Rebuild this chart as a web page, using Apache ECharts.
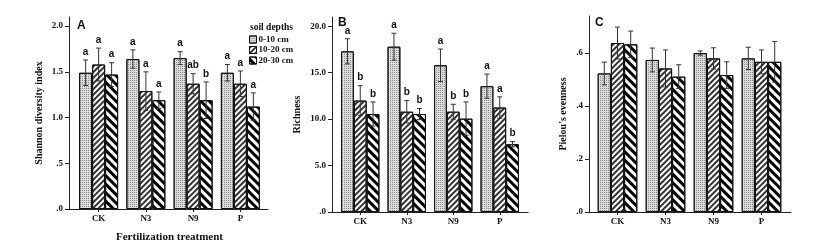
<!DOCTYPE html>
<html><head><meta charset="utf-8">
<script src="https://cdn.jsdelivr.net/npm/echarts@6/dist/echarts.min.js"></script>
<style>html,body{margin:0;padding:0;background:#fff}#c{width:817px;height:251px}</style>
</head><body><div id="c"></div>
<script>
const categories = ['CK', 'N3', 'N9', 'P'];
const depths = ['0-10 cm', '10-20 cm', '20-30 cm'];

// Shannon diversity index (panel A), per depth: CK, N3, N9, P
const shannon0_10 = [1.49, 1.64, 1.65, 1.49];
const shannon10_20 = [1.58, 1.29, 1.37, 1.37];
const shannon20_30 = [1.47, 1.19, 1.19, 1.12];
const shannonErr0_10 = [0.14, 0.10, 0.07, 0.09];
const shannonErr10_20 = [0.18, 0.21, 0.11, 0.14];
const shannonErr20_30 = [0.13, 0.09, 0.20, 0.15];
const shannonLetters0_10 = ['a', 'a', 'a', 'a'];
const shannonLetters10_20 = ['a', 'a', 'ab', 'a'];
const shannonLetters20_30 = ['a', 'a', 'b', 'a'];

// Richness (panel B)
const rich0_10 = [17.3, 17.8, 15.8, 13.55];
const rich10_20 = [12.0, 10.8, 10.8, 11.25];
const rich20_30 = [10.55, 10.55, 10.05, 7.3];
const richErr0_10 = [1.35, 1.45, 1.75, 1.3];
const richErr10_20 = [1.6, 1.2, 0.8, 1.15];
const richErr20_30 = [1.3, 0.6, 1.8, 0.28];
const richLetters0_10 = ['a', 'a', 'a', 'a'];
const richLetters10_20 = ['b', 'b', 'b', 'a'];
const richLetters20_30 = ['b', 'b', 'b', 'b'];

// Pielou's evenness (panel C)
const even0_10 = [0.523, 0.574, 0.600, 0.580];
const even10_20 = [0.638, 0.542, 0.580, 0.567];
const even20_30 = [0.633, 0.511, 0.517, 0.567];
const evenErr0_10 = [0.043, 0.045, 0.008, 0.042];
const evenErr10_20 = [0.06, 0.07, 0.04, 0.045];
const evenErr20_30 = [0.05, 0.045, 0.05, 0.077];

// tick values
const shannonTicks = [0, 0.5, 1.0, 1.5, 2.0];
const richTicks = [0, 5, 10, 15, 20];
const evenTicks = [0, 0.2, 0.4, 0.6];

const SERIF = "'Liberation Serif','Times New Roman',serif";
const SANS = "'Liberation Sans',Arial,sans-serif";
const GAP = 0.175;

const decals = [
  {symbol: 'rect', symbolSize: 1, color: '#8c8c8c', dashArrayX: [1, 1], dashArrayY: [1, 1]},
  {symbol: 'rect', symbolSize: 1, color: '#333', dashArrayX: [1, 0], dashArrayY: [1.2, 2], rotation: -Math.PI / 4},
  {symbol: 'rect', symbolSize: 1, color: '#000', dashArrayX: [1, 0], dashArrayY: [2.4, 2.4], rotation: Math.PI / 4}
];
const fills = ['#dcdcdc', '#ffffff', '#ffffff'];

function fmt(v, dec) {
  let s = v.toFixed(dec);
  if (s.startsWith('0.')) s = s.slice(1);
  return s;
}

const grids = [
  {left: 75, width: 189, top: 17, height: 192},
  {left: 337, width: 186, top: 17, height: 195},
  {left: 593.5, width: 192, top: 16, height: 196},
  {left: 69, width: 199, top: 17, height: 192},
  {left: 332, width: 196, top: 17, height: 195},
  {left: 589, width: 202, top: 16, height: 196}
];

const panels = [
  {means: [shannon0_10, shannon10_20, shannon20_30], errs: [shannonErr0_10, shannonErr10_20, shannonErr20_30],
   letters: [shannonLetters0_10, shannonLetters10_20, shannonLetters20_30], max: 2.1, ticks: shannonTicks, dec: 1,
   name: 'Shannon diversity index', nameGap: 25, offset: 6},
  {means: [rich0_10, rich10_20, rich20_30], errs: [richErr0_10, richErr10_20, richErr20_30],
   letters: [richLetters0_10, richLetters10_20, richLetters20_30], max: 21, ticks: richTicks, dec: 1,
   name: 'Richness', nameGap: 30, offset: 5},
  {means: [even0_10, even10_20, even20_30], errs: [evenErr0_10, evenErr10_20, evenErr20_30],
   letters: null, max: 0.74, ticks: evenTicks, dec: 1,
   name: "Pielou's evenness", nameGap: 21, offset: 4.5}
];

const xAxes = [], yAxes = [], series = [];
panels.forEach((p, g) => {
  xAxes.push({
    type: 'category', gridIndex: g, data: categories,
    axisLine: {show: false},
    axisTick: {show: true, alignWithLabel: true, length: 3, lineStyle: {color: '#222'}},
    axisLabel: {fontFamily: SERIF, fontWeight: 'bold', fontSize: 9, color: '#111', margin: 5},
    name: g === 0 ? 'Fertilization treatment' : '',
    nameLocation: 'middle', nameGap: 23,
    nameTextStyle: {fontFamily: SERIF, fontWeight: 'bold', fontSize: 11, color: '#111'}
  });
  yAxes.push({
    type: 'value', gridIndex: g, min: 0, max: p.max, offset: p.offset,
    axisLine: {show: true, lineStyle: {color: '#222'}},
    axisTick: {show: true, length: 4, customValues: p.ticks, lineStyle: {color: '#222'}},
    axisLabel: {customValues: p.ticks, margin: 6, fontFamily: SERIF, fontWeight: 'bold', fontSize: 9, color: '#111',
      formatter: v => fmt(v, p.dec)},
    splitLine: {show: false},
    name: p.name, nameLocation: 'middle', nameGap: p.nameGap, nameRotate: 90,
    nameTextStyle: {fontFamily: SERIF, fontWeight: 'bold', fontSize: 10, color: '#111'}
  });
  for (let k = 0; k < 3; k++) {
    series.push({
      type: 'bar', name: depths[k], xAxisIndex: g, yAxisIndex: g,
      data: p.means[k], barGap: '0%', barCategoryGap: (GAP * 100) + '%',
      itemStyle: {color: fills[k], borderColor: '#111', borderWidth: 1, decal: decals[k]},
      emphasis: {disabled: true}, animation: false
    });
  }
  for (let k = 0; k < 3; k++) {
    const mean = p.means[k], err = p.errs[k], lets = p.letters ? p.letters[k] : null;
    series.push({
      type: 'custom', xAxisIndex: g, yAxisIndex: g, z: 5, animation: false, silent: true,
      data: categories.map((c, i) => [i, mean[i], err[i]]),
      renderItem: function (params, api) {
        const i = api.value(0), m = api.value(1), e = api.value(2);
        const band = api.size([1, 0])[0];
        const bw = band * (1 - GAP) / 3;
        const cx = api.coord([i, m])[0] + (k - 1) * bw;
        const yt = api.coord([i, m + e])[1];
        const yb = api.coord([i, m - e])[1];
        const st = {stroke: '#333', lineWidth: 1};
        const ch = [
          {type: 'line', shape: {x1: cx, y1: yt, x2: cx, y2: yb}, style: st},
          {type: 'line', shape: {x1: cx - 2.5, y1: yt, x2: cx + 2.5, y2: yt}, style: st},
          {type: 'line', shape: {x1: cx - 2.5, y1: yb, x2: cx + 2.5, y2: yb}, style: st}
        ];
        if (lets) {
          ch.push({type: 'text', style: {text: lets[params.dataIndex], x: cx, y: yt - 3, align: 'center',
            verticalAlign: 'bottom', font: 'bold 10px ' + SANS, fill: '#111'}});
        }
        return {type: 'group', children: ch};
      }
    });
  }
});
// decorative full-length baselines
for (let g = 3; g < 6; g++) {
  xAxes.push({type: 'value', gridIndex: g, min: 0, max: 1, axisLine: {show: true, lineStyle: {color: '#222'}},
    axisTick: {show: false}, axisLabel: {show: false}, splitLine: {show: false}});
  yAxes.push({type: 'value', gridIndex: g, show: false, min: 0, max: 1});
}

const titleStyle = {fontFamily: SANS, fontWeight: 'bold', fontSize: 12, color: '#111'};
const option = {
  backgroundColor: '#fff',
  animation: false,
  grid: grids,
  xAxis: xAxes,
  yAxis: yAxes,
  title: [
    {text: 'A', left: 77, top: 20, padding: 0, textStyle: titleStyle},
    {text: 'B', left: 338, top: 17, padding: 0, textStyle: titleStyle},
    {text: 'C', left: 595, top: 17, padding: 0, textStyle: titleStyle},
    {text: 'soil depths', left: 250, top: 23, padding: 0,
      textStyle: {fontFamily: SERIF, fontWeight: 'bold', fontSize: 9.5, color: '#111'}}
  ],
  legend: {
    data: depths, orient: 'vertical', left: 249, top: 35, padding: 0,
    itemWidth: 7, itemHeight: 7, itemGap: 1.5, icon: 'rect', selectedMode: false,
    itemStyle: {borderColor: '#111', borderWidth: 1},
    textStyle: {fontFamily: SERIF, fontWeight: 'bold', fontSize: 9, color: '#111', padding: [0, 0, 0, -3]}
  },
  series: series
};
const chart = echarts.init(document.getElementById('c'), null, {renderer: 'canvas'});
chart.setOption(option);
</script></body></html>
